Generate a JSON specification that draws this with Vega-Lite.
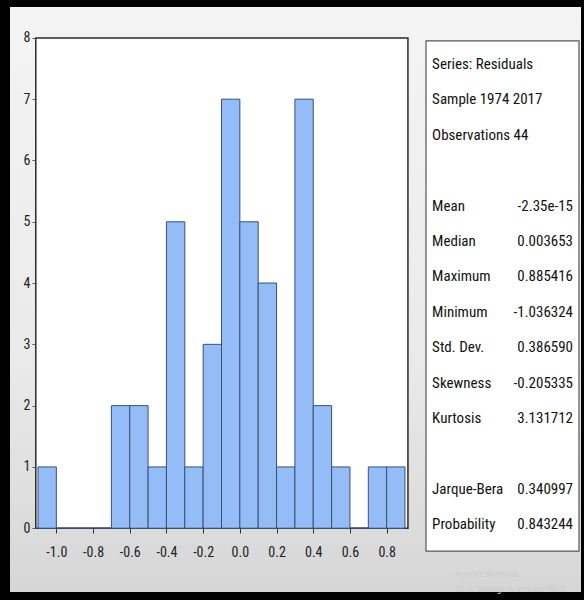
{
  "$schema": "https://vega.github.io/schema/vega-lite/v6.json",
  "width": 584,
  "height": 600,
  "autosize": {"type": "fit", "contains": "padding"},
  "padding": {"left": 10, "top": 7, "right": 3, "bottom": 6},
  "background": "#000000",
  "config": {
    "view": {"stroke": null, "fill": "#e9e9e9"},
    "font": "Liberation Sans Narrow, Arial Narrow, Roboto Condensed, DejaVu Sans Condensed, Liberation Sans, sans-serif",
    "locale": {"number": {"decimal": ".", "thousands": ",", "grouping": [3], "currency": ["$", ""], "minus": "-"}}
  },
  "datasets": {
    "bins": [
      {"bin_start": -1.1, "bin_end": -1.0, "count": 1},
      {"bin_start": -1.0, "bin_end": -0.9, "count": 0},
      {"bin_start": -0.9, "bin_end": -0.8, "count": 0},
      {"bin_start": -0.8, "bin_end": -0.7, "count": 0},
      {"bin_start": -0.7, "bin_end": -0.6, "count": 2},
      {"bin_start": -0.6, "bin_end": -0.5, "count": 2},
      {"bin_start": -0.5, "bin_end": -0.4, "count": 1},
      {"bin_start": -0.4, "bin_end": -0.3, "count": 5},
      {"bin_start": -0.3, "bin_end": -0.2, "count": 1},
      {"bin_start": -0.2, "bin_end": -0.1, "count": 3},
      {"bin_start": -0.1, "bin_end": 0.0, "count": 7},
      {"bin_start": 0.0, "bin_end": 0.1, "count": 5},
      {"bin_start": 0.1, "bin_end": 0.2, "count": 4},
      {"bin_start": 0.2, "bin_end": 0.3, "count": 1},
      {"bin_start": 0.3, "bin_end": 0.4, "count": 7},
      {"bin_start": 0.4, "bin_end": 0.5, "count": 2},
      {"bin_start": 0.5, "bin_end": 0.6, "count": 1},
      {"bin_start": 0.6, "bin_end": 0.7, "count": 0},
      {"bin_start": 0.7, "bin_end": 0.8, "count": 1},
      {"bin_start": 0.8, "bin_end": 0.9, "count": 1}
    ],
    "stats": [
      {"row": 1, "label": "Series: Residuals", "value": ""},
      {"row": 2, "label": "Sample 1974 2017", "value": ""},
      {"row": 3, "label": "Observations 44", "value": ""},
      {"row": 5, "label": "Mean", "value": "-2.35e-15"},
      {"row": 6, "label": "Median", "value": "0.003653"},
      {"row": 7, "label": "Maximum", "value": "0.885416"},
      {"row": 8, "label": "Minimum", "value": "-1.036324"},
      {"row": 9, "label": "Std. Dev.", "value": "0.386590"},
      {"row": 10, "label": "Skewness", "value": "-0.205335"},
      {"row": 11, "label": "Kurtosis", "value": "3.131712"},
      {"row": 13, "label": "Jarque-Bera", "value": "0.340997"},
      {"row": 14, "label": "Probability", "value": "0.843244"}
    ],
    "watermark": [
      {"row": 15.4, "label": "Activate Windows"},
      {"row": 15.82, "label": "Go to Settings to activate Windows."}
    ]
  },
  "layer": [
    {
      "data": {"values": [{}]},
      "mark": {
        "type": "rect",
        "fill": {
          "gradient": "linear", "x1": 0, "y1": 0, "x2": 0, "y2": 1,
          "stops": [{"offset": 0, "color": "#f4f4f4"}, {"offset": 0.6, "color": "#eaeaea"}, {"offset": 1, "color": "#d6d6d6"}]
        }
      },
      "encoding": {}
    },
    {
      "layer": [
        {
          "data": {"values": [{}]},
          "mark": {"type": "rect", "fill": "#ffffff", "stroke": "#2a2a2a", "strokeWidth": 1.5},
          "encoding": {
            "x": {"datum": -1.112, "type": "quantitative"},
            "x2": {"datum": 0.916},
            "y": {"datum": 0, "type": "quantitative"},
            "y2": {"datum": 8}
          }
        },
        {
          "data": {"name": "bins"},
          "mark": {"type": "rect", "fill": "#94bcf7", "stroke": "#3a4f7c", "strokeWidth": 1},
          "encoding": {
            "x": {
              "field": "bin_start", "type": "quantitative",
              "scale": {"domain": [-1.25259, 1.85913], "nice": false, "zero": false},
              "axis": {
                "orient": "bottom", "zindex": 2,
                "values": [-1.0, -0.8, -0.6, -0.4, -0.2, 0.0, 0.2, 0.4, 0.6, 0.8],
                "format": ".1f",
                "offset": -64, "domain": false, "grid": false, "title": null,
                "tickSize": 5, "tickColor": "#333333", "tickWidth": 1,
                "labelFontSize": 14, "labelColor": "#222222", "labelPadding": 12,
                "labelFlush": false
              }
            },
            "x2": {"field": "bin_end"},
            "y": {
              "field": "count", "type": "quantitative",
              "scale": {"domain": [-1.04065, 8.50407], "nice": false, "zero": false},
              "axis": {
                "orient": "left", "zindex": 2,
                "values": [0, 1, 2, 3, 4, 5, 6, 7, 8], "format": "d",
                "offset": -26, "domain": false, "grid": false, "title": null,
                "tickSize": 4, "tickColor": "#555555",
                "labelFontSize": 14, "labelColor": "#222222", "labelPadding": 2
              }
            },
            "y2": {"datum": 0}
          }
        }
      ]
    },
    {
      "layer": [
        {
          "data": {"values": [{}]},
          "mark": {"type": "rect", "fill": "#ffffff", "stroke": "#555555", "strokeWidth": 1.2},
          "encoding": {
            "x": {"datum": 0, "type": "quantitative", "scale": {"domain": [-2.719, 1.0131], "nice": false, "zero": false}, "axis": null},
            "x2": {"datum": 1},
            "y": {"datum": 0.35, "type": "quantitative", "scale": {"domain": [-0.607, 15.914], "nice": false, "zero": false, "reverse": true}, "axis": null},
            "y2": {"datum": 14.76}
          }
        },
        {
          "data": {"name": "stats"},
          "mark": {"type": "text", "align": "left", "baseline": "middle", "fontSize": 15, "color": "#111111"},
          "encoding": {
            "x": {"datum": 0.04, "type": "quantitative"},
            "y": {"field": "row", "type": "quantitative"},
            "text": {"field": "label"}
          }
        },
        {
          "data": {"name": "stats"},
          "mark": {"type": "text", "align": "right", "baseline": "middle", "fontSize": 15, "color": "#111111"},
          "encoding": {
            "x": {"datum": 0.961, "type": "quantitative"},
            "y": {"field": "row", "type": "quantitative"},
            "text": {"field": "value"}
          }
        },
        {
          "data": {"name": "watermark"},
          "mark": {"type": "text", "align": "left", "baseline": "middle", "fontSize": 9, "color": "#cdcdcd", "limit": 118, "ellipsis": ""},
          "encoding": {
            "x": {"datum": 0.19, "type": "quantitative"},
            "y": {"field": "row", "type": "quantitative"},
            "text": {"field": "label"}
          }
        }
      ]
    }
  ],
  "resolve": {"scale": {"x": "independent", "y": "independent"}}
}
